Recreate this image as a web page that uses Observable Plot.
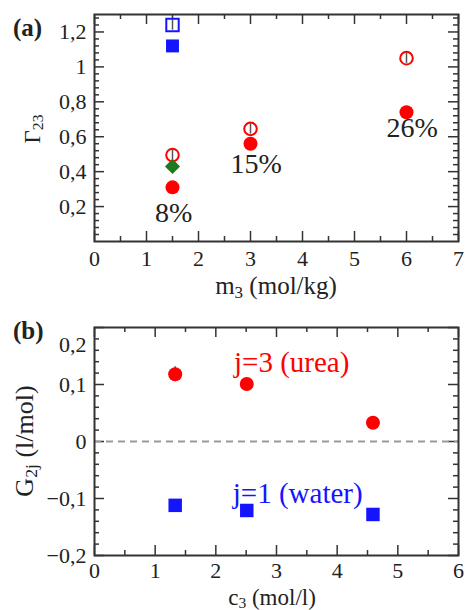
<!DOCTYPE html>
<html><head><meta charset="utf-8">
<script src="https://cdn.jsdelivr.net/npm/d3@7"></script>
<script src="https://cdn.jsdelivr.net/npm/@observablehq/plot@0.6"></script>
<style>
body{margin:0;background:#fff}
#chart{width:466px;position:relative;height:610px}
#chart svg{display:block;position:absolute;left:0;background:transparent}
#chart svg text{font-family:"Liberation Serif","Times New Roman",serif}
</style>
</head><body><div id="chart"></div>
<script>
// ---------- Panel (a) data ----------
const m3 = [1.5, 3, 6];
const gammaOpen = [0.495, 0.645, 1.05];
const gammaOpenErr = [0.03, 0.03, 0.03];
const gammaFilled = [0.31, 0.56, 0.74];
const pctLabels = ["8%", "15%", "26%"];
const pctX = [1.52, 3.11, 6.11];
const pctY = [0.162, 0.441, 0.647];
const blueOpenM = [1.5], blueOpenG = [1.24], blueOpenErr = [0.03];
const blueFilledM = [1.5], blueFilledG = [1.12];
const greenM = [1.5], greenG = [0.43];
const xTicksA = [0, 1, 2, 3, 4, 5, 6, 7];
const yTicksA = [0.2, 0.4, 0.6, 0.8, 1, 1.2];

// ---------- Panel (b) data ----------
const c3 = [1.33, 2.51, 4.59];
const G23 = [0.118, 0.101, 0.033];
const G23err = [0.013, 0, 0];
const G21 = [-0.112, -0.121, -0.128];
const seriesLabels = ["j=3 (urea)", "j=1 (water)"];
const seriesLabelX = [3.25, 3.35];
const seriesLabelY = [0.139, -0.091];
const xTicksB = [0, 1, 2, 3, 4, 5, 6];
const yTicksB = [-0.2, -0.1, 0, 0.1];
const yTicksBTop = [0.2];

const RED = "#ff0000", BLUE = "#1414ff", GREEN = "#1f7a1f", INK = "#222";
const SERIF = "Liberation Serif, Times New Roman, serif";
const fmt = d => (d < 0 ? "\u2212" : "") + String(+Math.abs(d).toFixed(2)).replace(".", ",");

function boxTicks(xMajor, xMinor, yMajor, yMinor, plotW, plotH) {
  const s = {stroke: "#333", strokeWidth: 1.5};
  const L = 10, l = 5;
  return [
    Plot.tickX(xMajor, {x: d => d, insetTop: plotH - L, ...s}),
    Plot.tickX(xMajor, {x: d => d, insetBottom: plotH - L, ...s}),
    Plot.tickX(xMinor, {x: d => d, insetTop: plotH - l, ...s}),
    Plot.tickX(xMinor, {x: d => d, insetBottom: plotH - l, ...s}),
    Plot.tickY(yMajor, {y: d => d, insetRight: plotW - L, ...s}),
    Plot.tickY(yMajor, {y: d => d, insetLeft: plotW - L, ...s}),
    Plot.tickY(yMinor, {y: d => d, insetRight: plotW - l, ...s}),
    Plot.tickY(yMinor, {y: d => d, insetLeft: plotW - l, ...s})
  ];
}

function addText(svg, x, y, parts, {size = 24, rotate = false, anchor = "middle", weight = "normal", fill = INK} = {}) {
  const t = d3.select(svg).append("text")
    .attr("font-family", SERIF)
    .attr("font-size", size).attr("font-weight", weight)
    .attr("fill", fill).attr("text-anchor", anchor)
    .attr("transform", rotate ? `translate(${x},${y}) rotate(-90)` : `translate(${x},${y})`);
  let shifted = false;
  for (const p of parts) {
    const ts = t.append("tspan").text(p.text);
    if (p.sub && !shifted) { ts.attr("dy", "0.22em").attr("font-size", size * 0.68); shifted = true; }
    else if (p.sub) { ts.attr("font-size", size * 0.68); }
    else if (!p.sub && shifted) { ts.attr("dy", "-0.15em"); shifted = false; }
  }
}

const W = 466, mL = 94, mR = 8;
const plotW = W - mL - mR;

// ---------- Panel (a) ----------
const hA = 306, mTA = 14, mBA = 65, plotHA = hA - mTA - mBA;
const svgA = Plot.plot({
  width: W, height: hA, marginLeft: mL, marginRight: mR, marginTop: mTA, marginBottom: mBA,
  style: {background: "transparent", color: INK, fontFamily: SERIF},
  x: {domain: [0, 7], axis: null},
  y: {domain: [0, 1.3], axis: null},
  marks: [
    Plot.axisX(xTicksA, {tickSize: 0, tickPadding: 9, fontSize: 22, tickFormat: fmt, label: null}),
    Plot.axisY(yTicksA, {tickSize: 0, tickPadding: 8, fontSize: 22, tickFormat: fmt, label: null}),
    ...boxTicks(xTicksA, d3.range(0.5, 7, 1), yTicksA, d3.range(0.04, 1.3, 0.04).filter(v => Math.abs(v / 0.2 - Math.round(v / 0.2)) > 1e-6), plotW, plotHA),
    Plot.ruleX(m3, {x: d => d, y1: (d, i) => gammaOpen[i] - gammaOpenErr[i], y2: (d, i) => gammaOpen[i] + gammaOpenErr[i], stroke: "#555", strokeWidth: 1.5}),
    Plot.ruleX(blueOpenM, {x: d => d, y1: (d, i) => blueOpenG[i] - blueOpenErr[i], y2: (d, i) => blueOpenG[i] + blueOpenErr[i], stroke: "#555", strokeWidth: 1.5}),
    Plot.dot(m3, {x: d => d, y: (d, i) => gammaOpen[i], r: 6.3, stroke: RED, strokeWidth: 2, fill: "none"}),
    Plot.dot(m3, {x: d => d, y: (d, i) => gammaFilled[i], r: 7, fill: RED, stroke: "none"}),
    Plot.dot(blueOpenM, {x: d => d, y: (d, i) => blueOpenG[i], symbol: "square", r: 7, stroke: BLUE, strokeWidth: 2, fill: "none"}),
    Plot.dot(blueFilledM, {x: d => d, y: (d, i) => blueFilledG[i], symbol: "square", r: 7.3, fill: BLUE, stroke: "none"}),
    Plot.dot(greenM, {x: d => d, y: (d, i) => greenG[i], symbol: "diamond2", r: 6.8, fill: GREEN, stroke: "none"}),
    Plot.text(pctLabels, {x: (d, i) => pctX[i], y: (d, i) => pctY[i], text: d => d, fontSize: 28, fontFamily: SERIF, fill: INK}),
    Plot.frame({stroke: "#333", strokeWidth: 2})
  ]
});
svgA.style.top = "0px";
addText(svgA, 13, 36, [{text: "(a)"}], {size: 25, weight: "bold", anchor: "start"});
addText(svgA, 40, 129, [{text: "\u0393"}, {text: "23", sub: true}], {size: 23, rotate: true});
addText(svgA, 276, 294, [{text: "m"}, {text: "3", sub: true}, {text: " (mol/kg)"}], {size: 25});

// ---------- Panel (b) ----------
const hB = 310, mTB = 27, mBB = 55, plotHB = hB - mTB - mBB;
const svgB = Plot.plot({
  width: W, height: hB, marginLeft: mL, marginRight: mR, marginTop: mTB, marginBottom: mBB,
  style: {background: "transparent", color: INK, fontFamily: SERIF},
  x: {domain: [0, 6], axis: null},
  y: {domain: [-0.2, 0.2], axis: null},
  marks: [
    Plot.axisX(xTicksB, {tickSize: 0, tickPadding: 7, fontSize: 22, tickFormat: fmt, label: null}),
    Plot.axisY(yTicksB, {tickSize: 0, tickPadding: 8, fontSize: 22, tickFormat: fmt, label: null}),
    Plot.axisY(yTicksBTop, {tickSize: 0, tickPadding: 8, fontSize: 22, tickFormat: fmt, label: null, dy: 17}),
    ...boxTicks(xTicksB, d3.range(0.5, 6, 1), [...yTicksB, 0.2], d3.range(-0.18, 0.2, 0.02).filter(v => Math.abs(v / 0.1 - Math.round(v / 0.1)) > 1e-6), plotW, plotHB),
    Plot.ruleY([0], {stroke: "#999", strokeWidth: 2, strokeDasharray: "7,5"}),
    Plot.ruleX(c3, {x: d => d, y1: (d, i) => G23[i] - G23err[i], y2: (d, i) => G23[i] + G23err[i], stroke: "#555", strokeWidth: 1.5, filter: (d, i) => G23err[i] > 0}),
    Plot.dot(c3, {x: d => d, y: (d, i) => G23[i], r: 7, fill: RED, stroke: "none"}),
    Plot.dot(c3, {x: d => d, y: (d, i) => G21[i], symbol: "square", r: 7.6, fill: BLUE, stroke: "none"}),
    Plot.text(seriesLabels, {x: (d, i) => seriesLabelX[i], y: (d, i) => seriesLabelY[i], text: d => d, fontSize: 29, fontFamily: SERIF, fill: (d, i) => i === 0 ? RED : BLUE}),
    Plot.frame({stroke: "#333", strokeWidth: 2})
  ]
});
svgB.style.top = "300px";
addText(svgB, 13, 39, [{text: "(b)"}], {size: 25, weight: "bold", anchor: "start"});
addText(svgB, 33, 141, [{text: "G"}, {text: "2j", sub: true}, {text: " (l/mol)"}], {size: 26, rotate: true});
addText(svgB, 272, 305, [{text: "c"}, {text: "3", sub: true}, {text: " (mol/l)"}], {size: 23});

document.getElementById("chart").append(svgA, svgB);
</script>
</body></html>
